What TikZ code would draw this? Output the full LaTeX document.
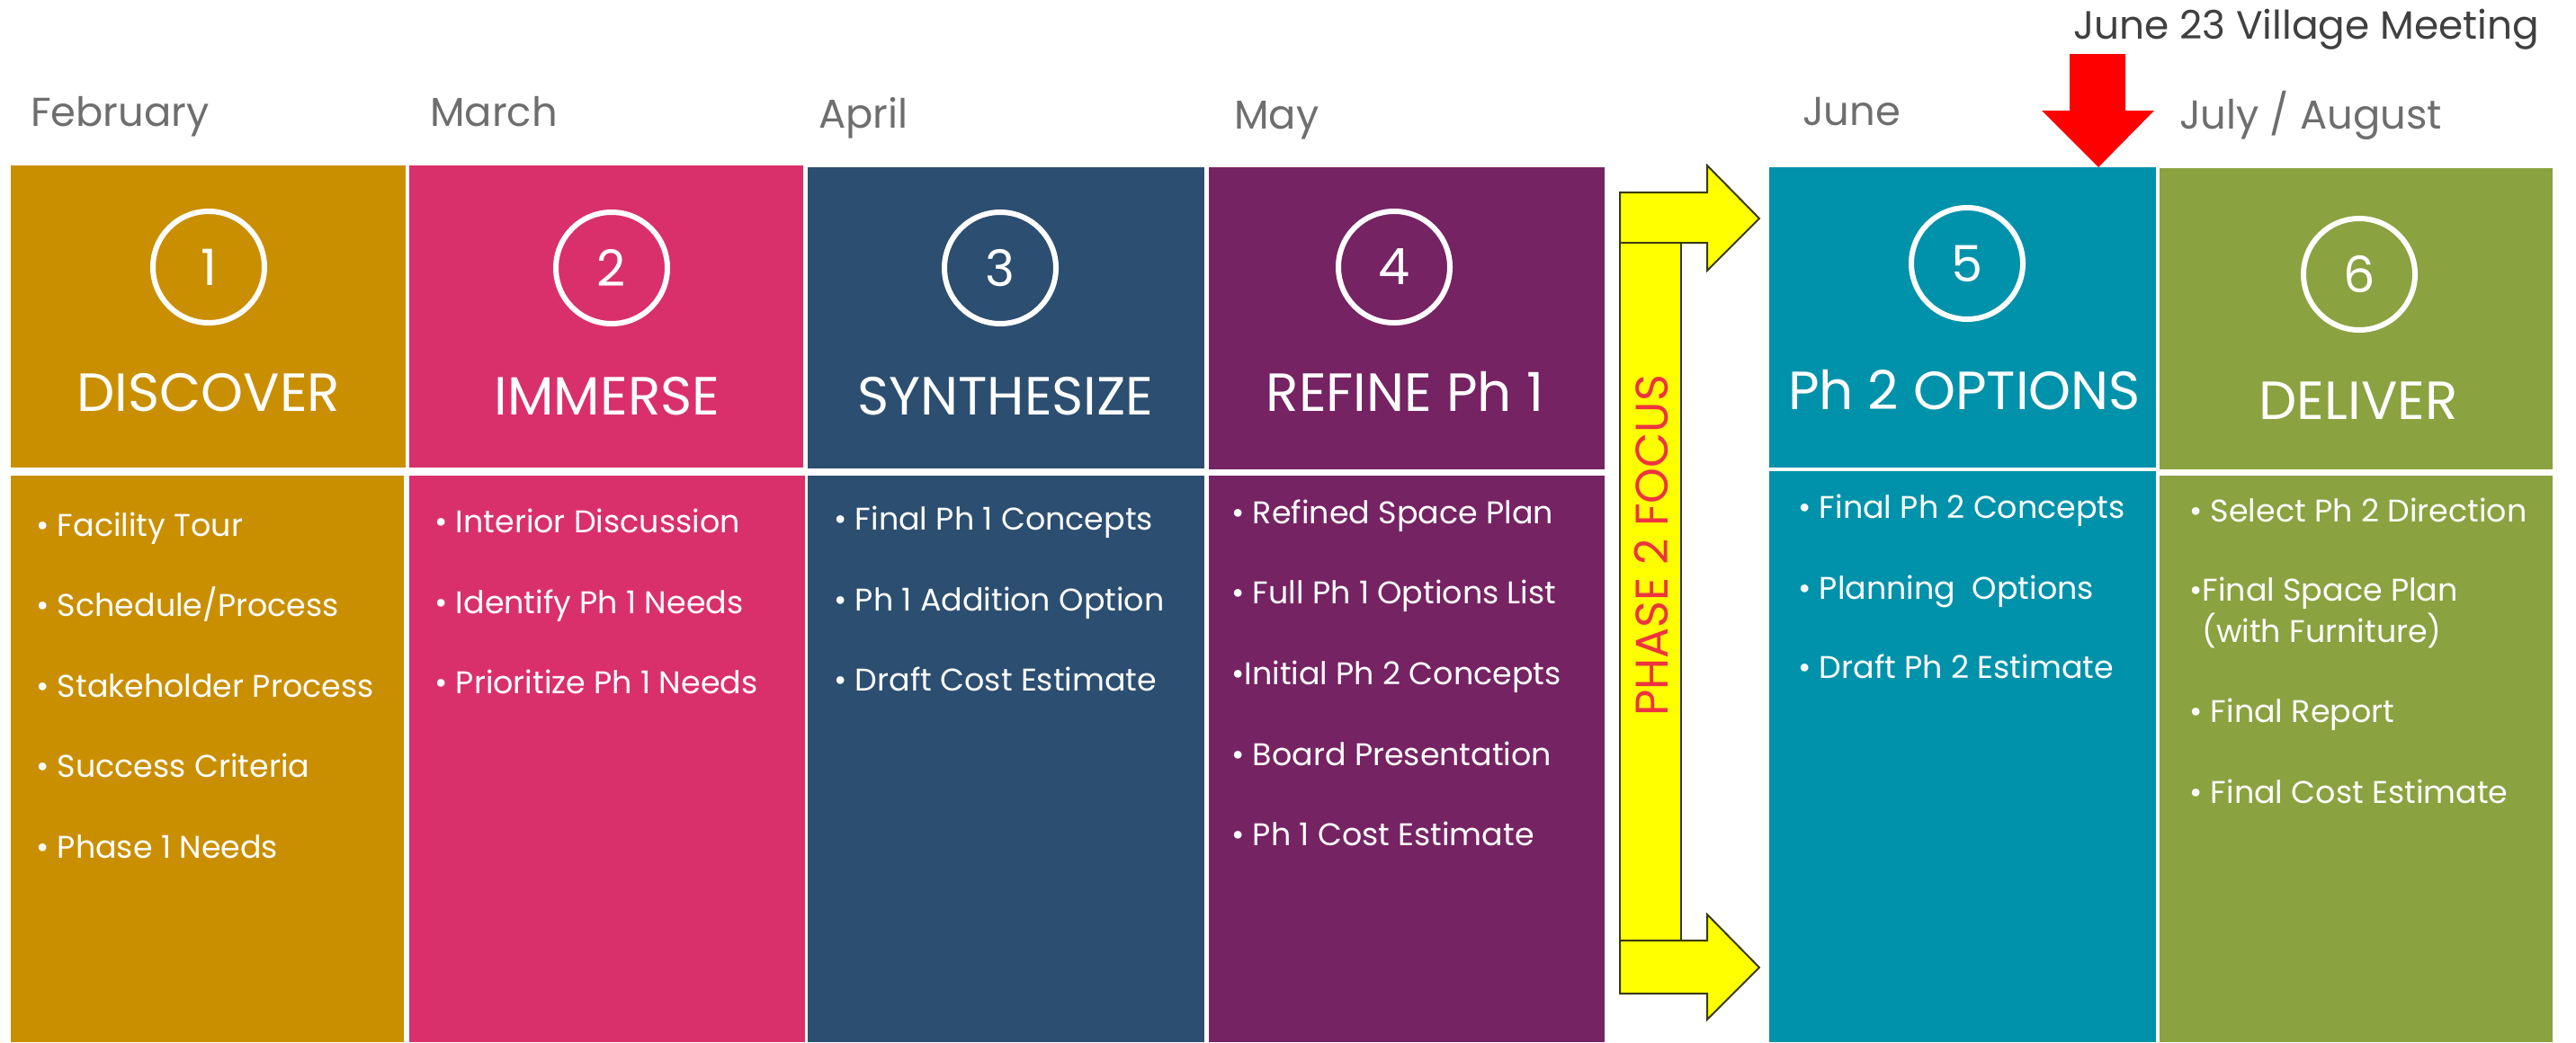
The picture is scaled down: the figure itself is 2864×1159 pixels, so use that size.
\documentclass[tikz,border=0pt]{standalone}
\usepackage{fontspec}
\setmainfont{Poppins}
\definecolor{cgold}{HTML}{C98F00}
\definecolor{cpink}{HTML}{D9306B}
\definecolor{cnavy}{HTML}{2C4E70}
\definecolor{cpurple}{HTML}{752363}
\definecolor{cteal}{HTML}{0092AA}
\definecolor{cgreen}{HTML}{8AA240}
\definecolor{cyel}{HTML}{FFFF00}
\definecolor{cyelline}{HTML}{3A3A10}
\definecolor{cred}{HTML}{FF0000}
\definecolor{cfocus}{HTML}{EE3340}
\definecolor{cmonth}{HTML}{6E6E6E}
\definecolor{cmeet}{HTML}{404040}
\begin{document}
\begin{tikzpicture}[x=1bp,y=-1bp,
  box/.style={rectangle, anchor=north west, inner sep=0, outer sep=0, draw=none},
  month/.style={anchor=base west, inner sep=0, text=cmonth, font=\fontsize{45}{50}\selectfont},
  hdr/.style={anchor=base, inner sep=0, text=white, font=\fontsize{60}{64}\selectfont},
  num/.style={circle, draw=white, line width=6bp, minimum size=124bp, inner sep=0, text=white, font=\fontsize{56}{60}\selectfont},
  item/.style={anchor=base west, inner sep=0, text=white, font=\fontsize{35}{40}\selectfont},
  yel/.style={fill=cyel, draw=cyelline, line width=2bp, line join=miter}]
\useasboundingbox (0,0) rectangle (2864,1159);
\fill[white] (0,0) rectangle (2864,1159);

% header boxes
\node[box, fill=cgold,   minimum width=439bp, minimum height=336bp] (h1) at (12,184) {};
\node[box, fill=cpink,   minimum width=438bp, minimum height=336bp] (h2) at (455,184) {};
\node[box, fill=cnavy,   minimum width=441bp, minimum height=335bp] (h3) at (898,186) {};
\node[box, fill=cpurple, minimum width=440bp, minimum height=336bp] (h4) at (1344,186) {};
\node[box, fill=cteal,   minimum width=430bp, minimum height=334bp] (h5) at (1967,186) {};
\node[box, fill=cgreen,  minimum width=437bp, minimum height=335bp] (h6) at (2401,187) {};
% lower boxes
\node[box, fill=cgold,   minimum width=437bp, minimum height=630bp] (l1) at (12,529) {};
\node[box, fill=cpink,   minimum width=440bp, minimum height=630bp] (l2) at (455,529) {};
\node[box, fill=cnavy,   minimum width=441bp, minimum height=630bp] (l3) at (898,529) {};
\node[box, fill=cpurple, minimum width=440bp, minimum height=630bp] (l4) at (1344,529) {};
\node[box, fill=cteal,   minimum width=430bp, minimum height=635bp] (l5) at (1967,524) {};
\node[box, fill=cgreen,  minimum width=437bp, minimum height=630bp] (l6) at (2401,529) {};

% months
\node[month] (m1) at (34,140) {February};
\node[month] (m2) at (478,140) {March};
\node[month] (m3) at (910,142) {April};
\node[month] (m4) at (1372,143) {May};
\node[month] (m5) at (2004,139) {June};
\node[month] (m6) at (2423,143) {July / August};
\node[anchor=base west, inner sep=0, text=cmeet, font=\fontsize{44}{48}\selectfont] (meet) at (2305,43) {June 23 Village Meeting};

% red arrow
\fill[cred] (2301,60) -- (2363,60) -- (2363,123) -- (2395,123) -- (2333,186) -- (2270,123) -- (2301,123) -- cycle;

% circles
\node[num] (c1) at (232,297) {1};
\node[num] (c2) at (680,298) {2};
\node[num] (c3) at (1112,298) {3};
\node[num] (c4) at (1550,297) {4};
\node[num] (c5) at (2187,293) {5};
\node[num] (c6) at (2623,305) {6};

% titles
\node[hdr] (t1) at (232,457) {DISCOVER};
\node[hdr] (t2) at (675,461) {IMMERSE};
\node[hdr] (t3) at (1118,461) {SYNTHESIZE};
\node[hdr] (t4) at (1562,457) {REFINE Ph 1};
\node[hdr] (t5) at (2184,455) {Ph 2 OPTIONS};
\node[hdr] (t6) at (2622,466) {DELIVER};

% items column 1
\node[item] (a1) at (40,596) {• Facility Tour};
\node[item] (a2) at (40,685) {• Schedule/Process};
\node[item] (a3) at (40,775) {• Stakeholder Process};
\node[item] (a4) at (40,864) {• Success Criteria};
\node[item] (a5) at (40,954) {• Phase 1 Needs};
% column 2
\node[item] (b1) at (483,592) {• Interior Discussion};
\node[item] (b2) at (483,682) {• Identify Ph 1 Needs};
\node[item] (b3) at (483,771) {• Prioritize Ph 1 Needs};
% column 3
\node[item] (d1) at (927,589) {• Final Ph 1 Concepts};
\node[item] (d2) at (927,679) {• Ph 1 Addition Option};
\node[item] (d3) at (927,768) {• Draft Cost Estimate};
% column 4
\node[item] (e1) at (1369,582) {• Refined Space Plan};
\node[item] (e2) at (1369,671) {• Full Ph 1 Options List};
\node[item] (e3) at (1369,761) {•Initial Ph 2 Concepts};
\node[item] (e4) at (1369,851) {• Board Presentation};
\node[item] (e5) at (1369,940) {• Ph 1 Cost Estimate};
% column 5
\node[item] (f1) at (1999,576) {• Final Ph 2 Concepts};
\node[item] (f2) at (1999,666) {• Planning~~Options};
\node[item] (f3) at (1999,754) {• Draft Ph 2 Estimate};
% column 6
\node[item] (g1) at (2434,580) {• Select Ph 2 Direction};
\node[item] (g2) at (2434,668) {•Final Space Plan};
\node[item] (g3) at (2448,714) {(with Furniture)};
\node[item] (g4) at (2434,803) {• Final Report};
\node[item] (g5) at (2434,893) {• Final Cost Estimate};

% phase 2 focus bracket
\draw[yel] (1801,214) -- (1898,214) -- (1898,184) -- (1956,243) -- (1898,301) -- (1898,270) -- (1801,270) -- cycle;
\draw[yel] (1801,270) rectangle (1869,1046);
\draw[yel] (1801,1046) -- (1898,1046) -- (1898,1017) -- (1956,1076) -- (1898,1134) -- (1898,1105) -- (1801,1105) -- cycle;
\node[rotate=90, inner sep=0, text=cfocus, font=\fontsize{51}{54}\selectfont] (focus) at (1836,607) {PHASE 2 FOCUS};
\end{tikzpicture}
\end{document}
